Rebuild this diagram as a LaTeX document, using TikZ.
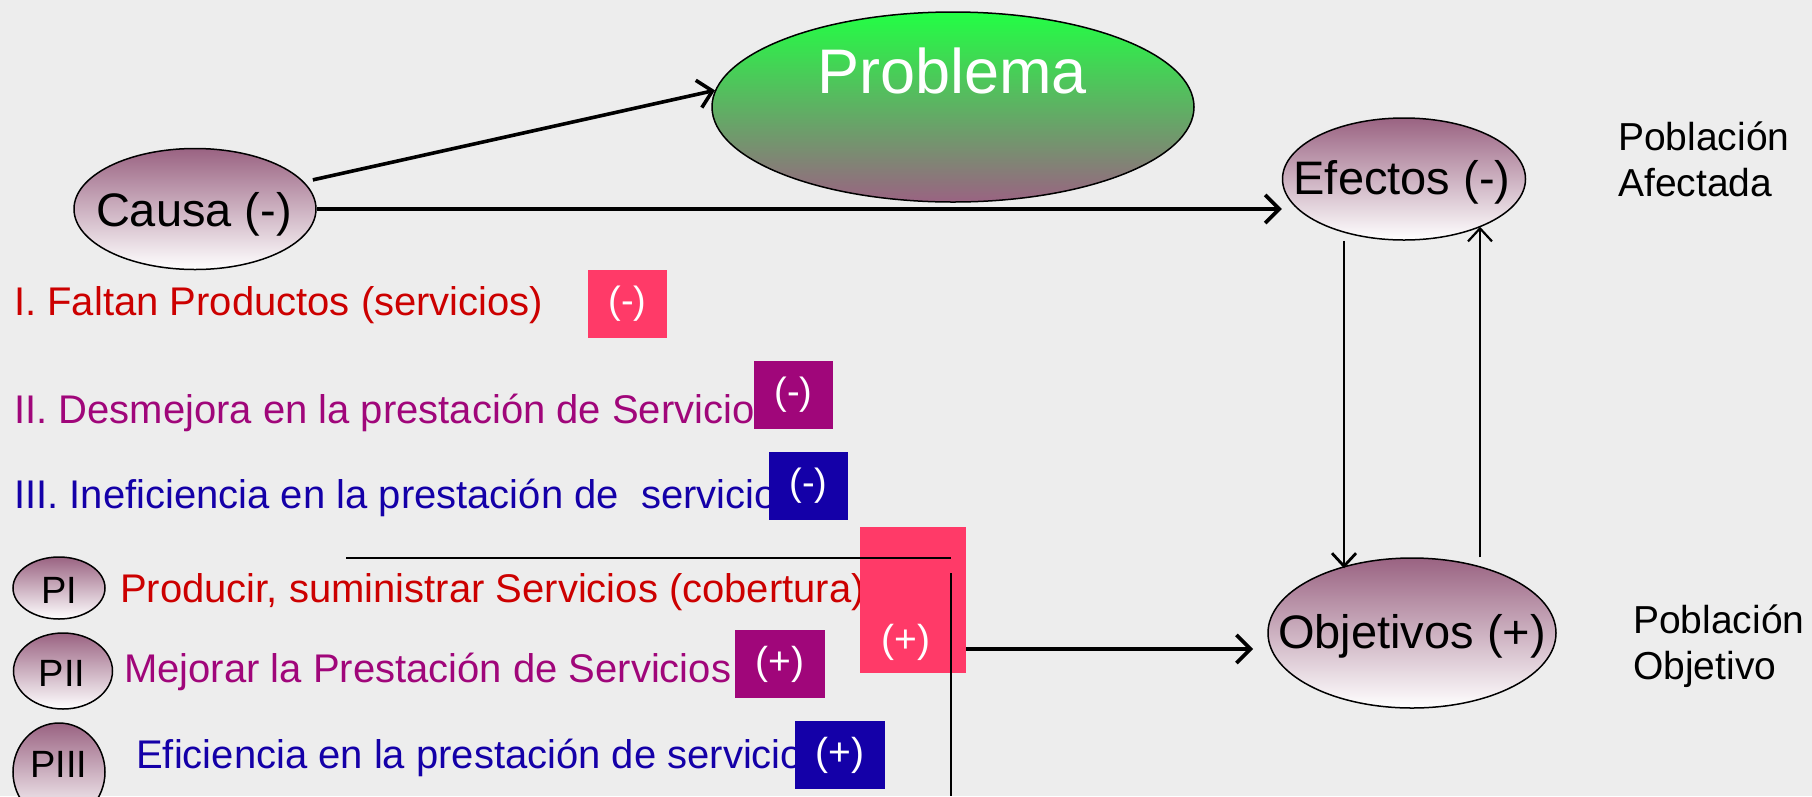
\documentclass[tikz,border=0pt]{standalone}
\usepackage{fontspec}
\setmainfont{Liberation Sans}
\usetikzlibrary{arrows.meta,shapes.geometric,calc}
\definecolor{bg}{HTML}{EDEDED}
\definecolor{mauve}{HTML}{9A6382}
\definecolor{grn}{HTML}{22FF44}
\definecolor{tred}{HTML}{CC0000}
\definecolor{tpur}{HTML}{A0067A}
\definecolor{tblu}{HTML}{1400A8}
\definecolor{bpink}{HTML}{FF3A68}
\definecolor{bpur}{HTML}{A0067A}
\definecolor{bblu}{HTML}{1400A8}
\newcommand\fsz[1]{\fontsize{#1}{#1}\selectfont}
\begin{document}
\begin{tikzpicture}[x=1pt,y=-1pt,
  oval/.style={ellipse, draw=black, line width=1.5pt, inner sep=0pt, top color=mauve, bottom color=white},
  big/.style={font=\fsz{47}, text=black, inner sep=0pt},
  ptx/.style={font=\fsz{38}, text=black, inner sep=0pt},
  lst/.style={anchor=base west, inner sep=0pt, font=\fsz{40}},
  side/.style={anchor=base west, inner sep=0pt, font=\fsz{39}, text=black},
  sbox/.style={inner sep=0pt, minimum width=79pt, minimum height=68pt, text=white, font=\fsz{38}},
  pbox/.style={inner sep=0pt, minimum width=90pt, minimum height=68pt, text=white, font=\fsz{39}},
  bigarrow/.style={line width=3.6pt, -{Straight Barb[length=14pt,width=28pt]}},
  midarrow/.style={line width=2.8pt, -{Straight Barb[length=13pt,width=24pt]}},
  thinarrow/.style={line width=2.2pt, -{Straight Barb[length=13pt,width=24pt]}},
  plainline/.style={line width=2pt}
]
\useasboundingbox (0,0) rectangle (1812,796);
\fill[bg] (0,0) rectangle (1812,796);

% main ellipses
\node[oval, minimum width=482pt, minimum height=190pt, top color=grn, bottom color=mauve] (problema) at (953,107) {};
\node[anchor=base, inner sep=0pt, text=white, font=\fsz{63}] (probtext) at (952,93) {Problema};
\node[oval, minimum width=242pt, minimum height=121pt] (causa) at (195,209) {};
\node[big] (causatxt) at (194,214) {Causa (-)};
\node[oval, minimum width=243pt, minimum height=122pt] (efectos) at (1404,179) {};
\node[big] (efectostxt) at (1402,182) {Efectos (-)};
\node[oval, minimum width=288pt, minimum height=150pt] (objetivos) at (1412,633) {};
\node[big] (objtxt) at (1412,636) {Objetivos (+)};

% side labels
\node[side] (pa1) at (1618,150) {Población};
\node[side] (pa2) at (1618,196) {Afectada};
\node[side] (po1) at (1633,633) {Población};
\node[side] (po2) at (1633,679) {Objetivo};

% negative list
\node[lst, text=tred] (l1) at (14,315) {I. Faltan Productos (servicios)};
\node[lst, text=tpur] (l2) at (14,423) {II. Desmejora en la prestación de Servicio};
\node[lst, text=tblu] (l3) at (14,508) {III. Ineficiencia en la prestación de\ \ servicio};
\node[sbox, fill=bpink] (b1) at (627.5,304) {(-)};
\node[sbox, fill=bpur] (b2) at (793.5,395) {(-)};
\node[sbox, fill=bblu] (b3) at (808.5,486) {(-)};

% positive list
\node[oval, minimum width=92pt, minimum height=62pt] (pi) at (59,588) {};
\node[ptx] (pitxt) at (59,590) {PI};
\node[oval, minimum width=99pt, minimum height=76pt] (pii) at (63,671) {};
\node[ptx] (piitxt) at (62,673) {PII};
\node[oval, minimum width=92pt, minimum height=98pt] (piii) at (59,772) {};
\node[ptx] (piiitxt) at (59,764) {PIII};
\node[lst, text=tred] (p1) at (120,602) {Producir, suministrar Servicios (cobertura)};
\node[lst, text=tpur] (p2) at (124,682) {Mejorar la Prestación de Servicios};
\node[lst, text=tblu] (p3) at (136,768) {Eficiencia en la prestación de servicio};
\node[inner sep=0pt, minimum width=106pt, minimum height=146pt, fill=bpink] (bigbox) at (913,600) {};
\node[inner sep=0pt, text=white, font=\fsz{39}] (bigtxt) at (906,642) {(+)};
\node[pbox, fill=bpur] (b5) at (780,664) {(+)};
\node[pbox, fill=bblu] (b6) at (840,755) {(+)};

% thin lines
\coordinate (h1) at (346,558);
\coordinate (h2) at (951,558);
\coordinate (v1) at (951,573);
\coordinate (v2) at (951,796);
\draw[plainline] (h1) -- (h2);
\draw[plainline] (v1) -- (v2);

% connectors
\draw[bigarrow, shorten <=9pt] (causa.14) -- (problema.176);
\draw[bigarrow] (causa.east) -- (causa.east -| efectos.west);
\coordinate (objin) at (1253,649);
\draw[bigarrow] (bigbox.east |- objin) -- (objin);
\coordinate (dn) at (1344,0);
\coordinate (up) at (1480,0);
\draw[midarrow] (efectos.south -| dn) -- ($(objetivos.north -| dn)+(0,11)$);
\draw[thinarrow] (objetivos.north -| up) -- ($(efectos.south -| up)+(0,-14)$);
\end{tikzpicture}
\end{document}
